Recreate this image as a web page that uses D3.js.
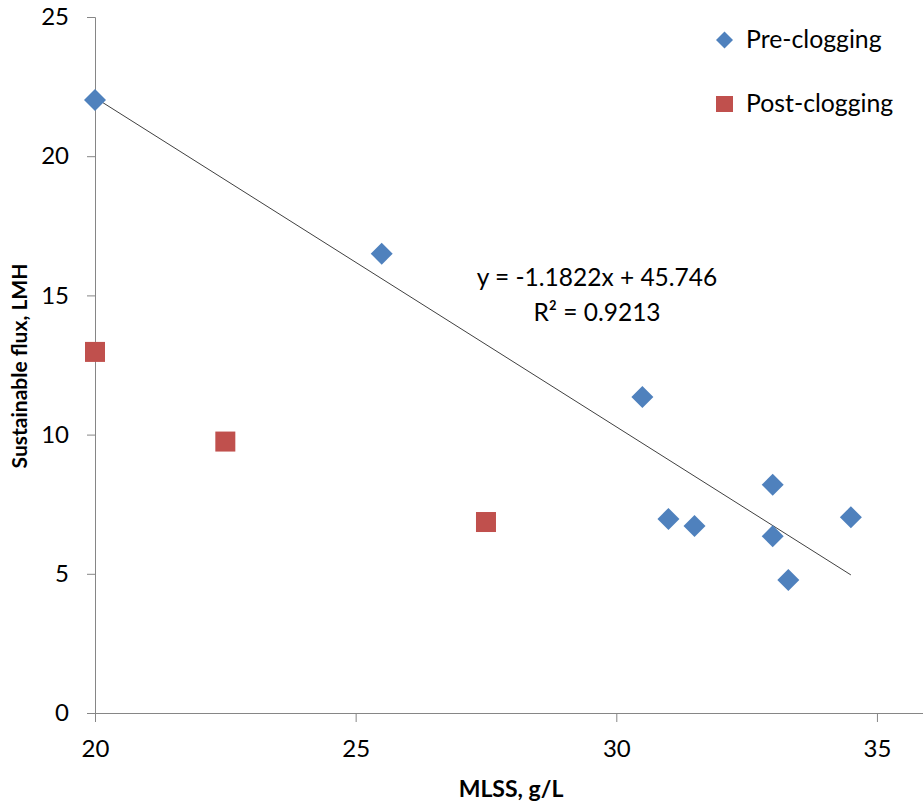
<!DOCTYPE html>
<html><head><meta charset="utf-8">
<script src="https://cdn.jsdelivr.net/npm/d3@7"></script>
<style>body{margin:0;background:#fff}svg{display:block}text{font-family:Lato,"Open Sans",sans-serif}</style>
</head><body><svg id="c" width="923" height="807"></svg>
<script>
const preX = [20, 25.5, 30.5, 31, 31.5, 33, 33, 33.3, 34.5];
const preY = [22.02, 16.5, 11.35, 6.97, 6.72, 8.2, 6.35, 4.78, 7.03];
const postX = [20, 22.5, 27.5];
const postY = [12.97, 9.75, 6.86];
const xTicks = [20, 25, 30, 35];
const yTicks = [0, 5, 10, 15, 20, 25];
const slope = -1.1822, intercept = 45.746;
const trendX = [20, 34.5];
const eqText = "y = -1.1822x + 45.746";
const r2Text = "R² = 0.9213";
const seriesNames = ["Pre-clogging", "Post-clogging"];

const svg = d3.select("#c");
const x = d3.scaleLinear().domain([20, 36]).range([95, 95 + 16 * 52.13]);
const y = d3.scaleLinear().domain([0, 25]).range([713, 17]);
const axisColor = "#868686";

// y axis
const ya = svg.append("g").attr("transform", "translate(95,0)")
  .call(d3.axisLeft(y).tickValues(yTicks).tickSize(8).tickPadding(18).tickFormat(d3.format("d")));
ya.select(".domain").attr("stroke", axisColor);
ya.selectAll(".tick line").attr("stroke", axisColor);
ya.selectAll(".tick text").attr("font-size", 24).attr("fill", "#000").attr("font-family", "Lato");

// x axis
const xa = svg.append("g").attr("transform", "translate(0,713)")
  .call(d3.axisBottom(x).tickValues(xTicks).tickSize(9).tickPadding(18).tickFormat(d3.format("d")));
xa.select(".domain").attr("stroke", axisColor).attr("d", "M87,0.5H923");
xa.selectAll(".tick line").attr("stroke", axisColor);
xa.selectAll(".tick text").attr("font-size", 24).attr("fill", "#000").attr("font-family", "Lato");

// trendline
svg.append("line")
  .attr("x1", x(trendX[0])).attr("y1", y(slope * trendX[0] + intercept))
  .attr("x2", x(trendX[1])).attr("y2", y(slope * trendX[1] + intercept))
  .attr("stroke", "#404040").attr("stroke-width", 1);

const blue = "#4F81BD", red = "#C0504D";
const diamond = (s) => `M0,${-s}L${s},0L0,${s}L${-s},0Z`;

svg.append("g").selectAll("rect").data(postX).join("rect")
  .attr("x", (d) => x(d) - 10).attr("y", (d, i) => y(postY[i]) - 10)
  .attr("width", 20).attr("height", 20).attr("fill", red);

svg.append("g").selectAll("path").data(preX).join("path")
  .attr("transform", (d, i) => `translate(${x(d)},${y(preY[i])})`)
  .attr("d", diamond(11)).attr("fill", blue);

// equation
svg.append("text").attr("x", 597).attr("y", 286).attr("text-anchor", "middle")
  .attr("font-size", 24.5).text(eqText);
svg.append("text").attr("x", 597).attr("y", 321).attr("text-anchor", "middle")
  .attr("font-size", 24.5).text(r2Text);

// legend
svg.append("path").attr("transform", "translate(724.5,40)").attr("d", diamond(8.5)).attr("fill", blue);
svg.append("text").attr("x", 746).attr("y", 48).attr("font-size", 24.8).text(seriesNames[0]);
svg.append("rect").attr("x", 716).attr("y", 96).attr("width", 17).attr("height", 16).attr("fill", red);
svg.append("text").attr("x", 746).attr("y", 112).attr("font-size", 24.8).text(seriesNames[1]);

// axis titles
svg.append("text").attr("x", 511).attr("y", 797).attr("text-anchor", "middle")
  .attr("font-size", 23).attr("font-weight", "bold").text("MLSS, g/L");
svg.append("text").attr("transform", "translate(27,366) rotate(-90)").attr("text-anchor", "middle")
  .attr("font-size", 21).attr("font-weight", "bold").text("Sustainable flux, LMH");
</script></body></html>
